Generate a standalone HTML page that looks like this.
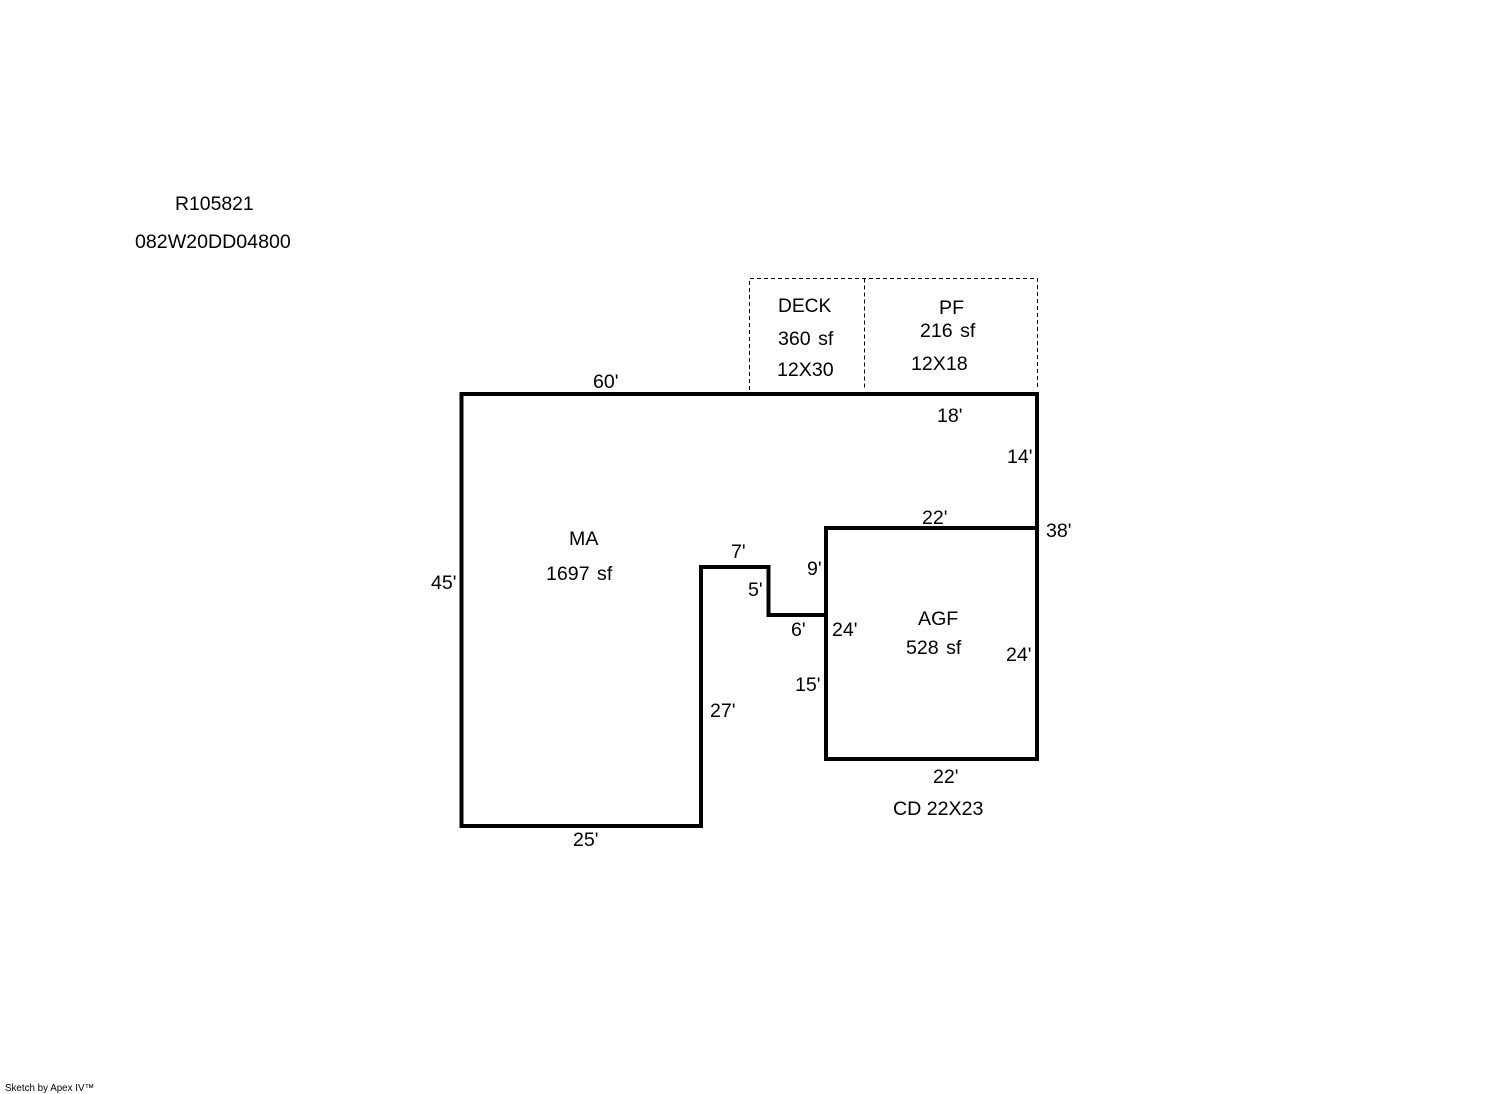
<!DOCTYPE html>
<html><head><meta charset="utf-8"><style>
html,body{margin:0;padding:0;background:#fff}
svg{display:block}
text{font-family:"Liberation Sans",Arial,sans-serif;font-size:19.6px;fill:#000}
.sf{word-spacing:2px}
</style></head><body>
<svg width="1492" height="1094" viewBox="0 0 1492 1094" xmlns="http://www.w3.org/2000/svg">
<rect width="1492" height="1094" fill="#fff"/>
<g fill="none" stroke="#000" stroke-width="1" stroke-dasharray="4 3">
<path d="M749.5 390V278.5H1037.5V390"/>
<path d="M864.5 278.5V390"/>
</g>
<g fill="none" stroke="#000" stroke-width="4" stroke-linejoin="miter">
<path d="M461.5 394H1037V528H826V615H768.5V567H701V826H461.5Z"/>
<path d="M826 528H1037V759H826Z"/>
</g>
<text x="175" y="210" style="font-size:19.4px">R105821</text>
<text x="135" y="248">082W20DD04800</text>
<text x="778" y="312" style="font-size:19.2px">DECK</text>
<text x="778" y="345" class="sf">360 sf</text>
<text x="777" y="376">12X30</text>
<text x="939" y="314">PF</text>
<text x="920" y="337" class="sf">216 sf</text>
<text x="911" y="370">12X18</text>
<text x="593" y="388">60'</text>
<text x="937" y="422">18'</text>
<text x="1007" y="463">14'</text>
<text x="922" y="524">22'</text>
<text x="1046" y="537">38'</text>
<text x="731" y="558">7'</text>
<text x="807" y="575">9'</text>
<text x="748" y="596">5'</text>
<text x="791" y="636">6'</text>
<text x="832" y="636">24'</text>
<text x="431" y="589">45'</text>
<text x="569" y="545">MA</text>
<text x="546" y="580" class="sf">1697 sf</text>
<text x="918" y="625">AGF</text>
<text x="906" y="654" class="sf">528 sf</text>
<text x="1006" y="661">24'</text>
<text x="795" y="691">15'</text>
<text x="710" y="717">27'</text>
<text x="933" y="783">22'</text>
<text x="893" y="815">CD 22X23</text>
<text x="573" y="846">25'</text>
<text x="5" y="1091" style="font-size:9.8px">Sketch by Apex IV™</text>
</svg>
</body></html>
